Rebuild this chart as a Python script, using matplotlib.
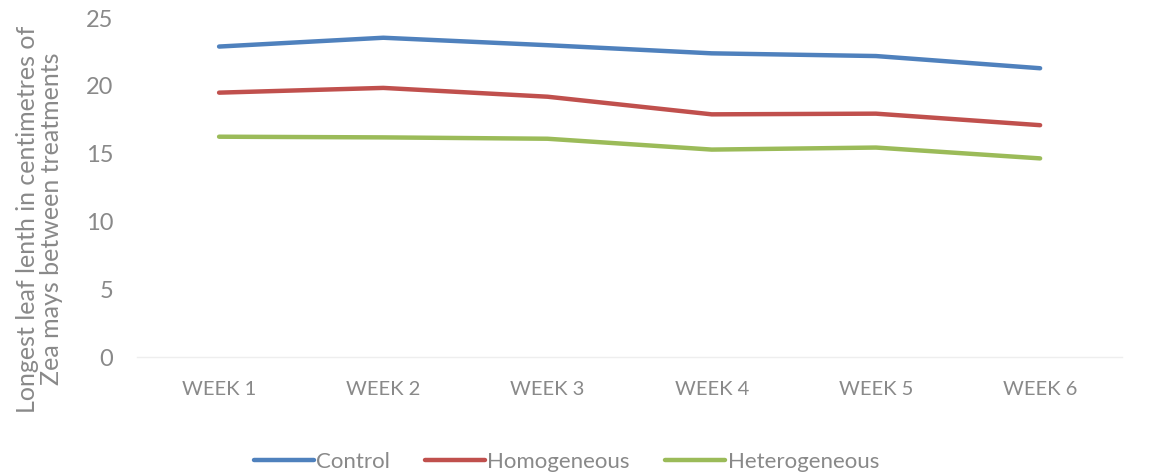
import matplotlib.pyplot as plt

# data
weeks = ['WEEK 1', 'WEEK 2', 'WEEK 3', 'WEEK 4', 'WEEK 5', 'WEEK 6']
control = [22.9, 23.55, 23.0, 22.4, 22.2, 21.3]
homogeneous = [19.5, 19.85, 19.2, 17.9, 17.95, 17.1]
heterogeneous = [16.25, 16.2, 16.1, 15.3, 15.45, 14.65]

plt.rcParams['font.family'] = ['Lato', 'DejaVu Sans']
grey = '#898989'

fig = plt.figure(figsize=(11.51, 4.76), dpi=100)
ax = fig.add_axes([0.119, 0.25, 0.856, 0.712])

x = range(len(weeks))
ax.plot(x, control, color='#4F81BD', lw=3.2, solid_capstyle='round', label='Control')
ax.plot(x, homogeneous, color='#C0504D', lw=3.2, solid_capstyle='round', label='Homogeneous')
ax.plot(x, heterogeneous, color='#9BBB59', lw=3.2, solid_capstyle='round', label='Heterogeneous')

ax.set_xlim(-0.5, len(weeks) - 0.5)
ax.set_ylim(0, 25)
ax.set_yticks([0, 5, 10, 15, 20, 25])
ax.set_xticks(list(x))
ax.set_xticklabels(weeks)
ax.tick_params(axis='y', length=0, labelsize=17, labelcolor=grey, pad=17)
ax.tick_params(axis='x', length=0, labelsize=14.5, labelcolor=grey, pad=17)

for s in ['left', 'right', 'top']:
    ax.spines[s].set_visible(False)
ax.spines['bottom'].set_color('#eeeeee')
ax.spines['bottom'].set_linewidth(1)

fig.text(0.034, 0.54, 'Longest leaf lenth in centimetres of\nZea mays between treatments',
         rotation=90, ha='center', va='center', fontsize=18, color=grey,
         linespacing=1.05)

fig.legend(loc='center', bbox_to_anchor=(0.492, 0.03), ncol=3, frameon=False,
           fontsize=16, labelcolor=grey, handlelength=2.7, handletextpad=0.1,
           columnspacing=1.6)

fig.savefig('out.png', dpi=100)
